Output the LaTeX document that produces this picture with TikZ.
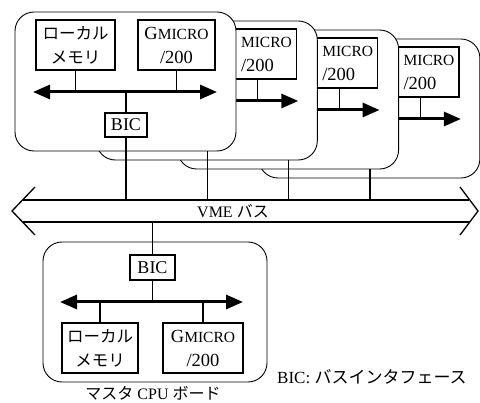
\documentclass[tikz,border=0pt]{standalone}
\usepackage{fontspec}
\setmainfont{Liberation Serif}
\newfontfamily\jp{Noto Sans CJK JP}
\usetikzlibrary{arrows.meta}
\begin{document}
\begin{tikzpicture}[x=1pt,y=-1pt,
  board/.style={draw, line width=0.9pt, fill=white, rounded corners=19pt},
  box/.style={draw, line width=1.2pt, fill=white, inner sep=0pt, align=center, minimum height=50pt},
  lmbox/.style={box, font=\jp\fontsize{16.5}{24}\selectfont},
  gmbox/.style={box, font=\fontsize{18.5}{24}\selectfont},
  gmtext/.style={inner sep=0pt, align=left, anchor=west, font=\fontsize{18.5}{24}\selectfont},
  bicbox/.style={draw, line width=1.2pt, fill=white, inner sep=0pt, minimum width=42pt, minimum height=24pt, font=\fontsize{18}{20}\selectfont},
  wire/.style={line width=1.2pt},
  localbus/.style={line width=3pt, {Triangle[length=17pt,width=14pt]}-{Triangle[length=17pt,width=14pt]}},
  rightbus/.style={line width=3pt, -{Triangle[length=17pt,width=14pt]}},
  vme/.style={line width=1.3pt},
  lbl/.style={inner sep=0pt}]
\useasboundingbox (0,0) rectangle (480,403);
\coordinate (vmeT) at (0,200);
\coordinate (vmeB) at (0,222);
% slave boards behind, back to front
\foreach \k in {3,2,1}{
  \begin{scope}[shift={(81.3*\k,9*\k)}]
    \draw[board] (15,12) rectangle (236,151);
    \node[gmbox, minimum width=77pt] (gm\k) at (176.5,45) {};
    \node[gmtext] (gmt\k) at (159.5,45) {{\fontsize{15.5}{24}\selectfont MICRO}\\/200};
    \coordinate (bl\k) at (110,92);
    \coordinate (br\k) at (217,92);
    \draw[rightbus] (bl\k) -- (br\k);
    \draw[wire] (gm\k.south) -- (gm\k.south |- bl\k);
    \coordinate (bic\k) at (126,137);
    \draw[wire] (bic\k) -- (bic\k |- vmeT);
  \end{scope}
}
% front slave board
\draw[board] (15,12) rectangle (236,151);
\node[lmbox, minimum width=79pt] (lm0) at (75.5,45) {ローカル\\メモリ};
\node[gmbox, minimum width=77pt] (gm0) at (176.5,45) {G{\fontsize{15.5}{24}\selectfont MICRO}\\/200};
\coordinate (bl0) at (33,92);
\coordinate (br0) at (217,92);
\draw[localbus] (bl0) -- (br0);
\draw[wire] (lm0.south) -- (lm0.south |- bl0);
\draw[wire] (gm0.south) -- (gm0.south |- bl0);
\node[bicbox] (bic0) at (126,125) {BIC};
\draw[wire] (bic0.north) -- (bic0.north |- bl0);
\draw[wire] (bic0.south) -- (bic0.south |- vmeT);
% VME bus
\draw[vme] (35,187) -- (12,211) -- (35,235);
\draw[vme] (460,187) -- (478,211) -- (460,235);
\draw[vme] (22.5,200) -- (469,200);
\draw[vme] (22.5,222) -- (470,222);
\node[lbl, font=\fontsize{16}{20}\selectfont] (vmelabel) at (233,211) {VME {\jp\fontsize{16}{20}\selectfont バス}};
% master board
\draw[board] (43,242) rectangle (267,382);
\node[bicbox, minimum width=45pt, minimum height=25pt] (mbic) at (152.5,267.5) {BIC};
\node[lmbox, minimum width=76pt] (mlm) at (100,348) {ローカル\\メモリ};
\node[gmbox, minimum width=80pt] (mgm) at (203,348) {G{\fontsize{15.5}{24}\selectfont MICRO}\\/200};
\coordinate (mbl) at (60,302);
\coordinate (mbr) at (243,302);
\draw[localbus] (mbl) -- (mbr);
\draw[wire] (mbic.north) -- (mbic.north |- vmeB);
\draw[wire] (mbic.south) -- (mbic.south |- mbl);
\draw[wire] (mlm.north) -- (mlm.north |- mbl);
\draw[wire] (mgm.north) -- (mgm.north |- mbl);
\node[lbl, font=\fontsize{16}{20}\selectfont] (mlabel) at (153,393.5) {{\jp マスタ} CPU {\jp ボード}};
\node[lbl, anchor=west, font=\fontsize{17}{20}\selectfont] (legend) at (277,377) {BIC: {\jp バスインタフェース}};
\end{tikzpicture}
\end{document}
